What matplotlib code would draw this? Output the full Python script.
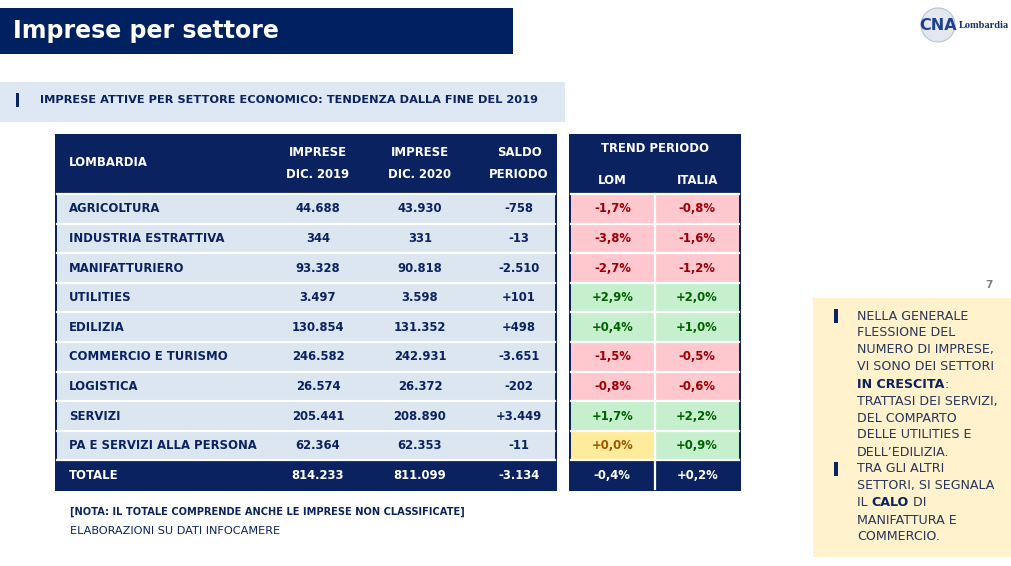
import matplotlib
matplotlib.use("Agg")
import matplotlib.pyplot as plt
from matplotlib.patches import Rectangle, Circle

# ---------------- data ----------------
sectors = ["AGRICOLTURA", "INDUSTRIA ESTRATTIVA", "MANIFATTURIERO", "UTILITIES",
           "EDILIZIA", "COMMERCIO E TURISMO", "LOGISTICA", "SERVIZI",
           "PA E SERVIZI ALLA PERSONA"]
imprese_2019 = [44688, 344, 93328, 3497, 130854, 246582, 26574, 205441, 62364]
imprese_2020 = [43930, 331, 90818, 3598, 131352, 242931, 26372, 208890, 62353]
saldo = [-758, -13, -2510, 101, 498, -3651, -202, 3449, -11]
trend_lom = [-1.7, -3.8, -2.7, 2.9, 0.4, -1.5, -0.8, 1.7, 0.0]
trend_italia = [-0.8, -1.6, -1.2, 2.0, 1.0, -0.5, -0.6, 2.2, 0.9]
totale_label = "TOTALE"
totale_2019 = 814233
totale_2020 = 811099
totale_saldo = -3134
totale_lom = -0.4
totale_italia = 0.2
header_cols = ["IMPRESE\nDIC. 2019", "IMPRESE\nDIC. 2020", "SALDO\nPERIODO"]
trend_cols = ["LOM", "ITALIA"]

# ---------------- style ----------------
FONT = "DejaVu Sans"
NAVY = "#0b2260"
LIGHT = "#dce6f1"
BAND = "#dde8f4"
RED_BG, RED_FG = "#ffc7ce", "#9c0006"
GRN_BG, GRN_FG = "#c6efce", "#006100"
YEL_BG, YEL_FG = "#ffeb9c", "#9c5700"
BOX = "#fff2cc"
BOXTXT = "#27365a"
TS = 8.4   # table font size


def fmt_int(v):
    return f"{v:,d}".replace(",", ".")


def fmt_signed(v):
    return f"{v:+,d}".replace(",", ".")


def fmt_pct(v):
    return f"{v:+.1f}%".replace(".", ",")


def pct_colors(v):
    if v > 0:
        return GRN_BG, GRN_FG
    if v < 0:
        return RED_BG, RED_FG
    return YEL_BG, YEL_FG


fig = plt.figure(figsize=(10.11, 5.66), dpi=100)
ax = fig.add_axes([0, 0, 1, 1])
ax.set_xlim(0, 1011)
ax.set_ylim(566, 0)
ax.axis("off")


def rect(x0, y0, x1, y1, color, z=1):
    ax.add_patch(Rectangle((x0, y0), x1 - x0, y1 - y0, facecolor=color,
                           edgecolor="none", zorder=z))


def txt(x, y, s, size=TS, color=NAVY, weight="bold", ha="left", va="center", **kw):
    return ax.text(x, y, s, fontsize=size, color=color, fontweight=weight, ha=ha,
                   va=va, family=FONT, zorder=5, **kw)


# title bar
rect(0, 8, 513, 54, "#002060")
txt(13, 31, "Imprese per settore", size=17, color="white")

# logo
ax.add_patch(Circle((938, 25), 17, facecolor="#e3e8f0", edgecolor="#b8c3d4",
                    lw=0.8, zorder=2))
ax.text(938, 26, "CNA", fontsize=11.5, fontweight="bold", color="#1f3f8f",
        ha="center", va="center", family="DejaVu Sans", zorder=5)
ax.text(959, 26, "Lombardia", fontsize=7.5, fontweight="bold", color="#1f2f6f",
        ha="left", va="center", family="Liberation Serif", zorder=5)

# sub header band
rect(0, 82, 565, 122, BAND)
rect(16, 93, 19, 107, NAVY, z=2)
txt(40, 100, "IMPRESE ATTIVE PER SETTORE ECONOMICO: TENDENZA DALLA FINE DEL 2019",
    size=8.2)

# ---------------- main table ----------------
top = 134
hdr_bot = 194
rh = 29.6
n = len(sectors)
bot = hdr_bot + rh * (n + 1)
L, R = 55, 557
rect(L, top, R, bot + 1, NAVY)
col_x = [318, 420, 519]
label_x = 69

txt(label_x, 162, "LOMBARDIA", color="white")
for cx, h in zip(col_x, header_cols):
    l1, l2 = h.split("\n")
    txt(cx, 153, l1, color="white", ha="center")
    txt(cx, 174, l2, color="white", ha="center")

for i, name in enumerate(sectors):
    y0 = hdr_bot + i * rh
    rect(L + 2, y0 + 1, R - 2, y0 + rh - 0.5, LIGHT)
    yc = y0 + rh / 2
    txt(label_x, yc, name)
    txt(col_x[0], yc, fmt_int(imprese_2019[i]), ha="center")
    txt(col_x[1], yc, fmt_int(imprese_2020[i]), ha="center")
    txt(col_x[2], yc, fmt_signed(saldo[i]), ha="center")

for i in range(n + 1):
    yy = hdr_bot + i * rh
    ax.plot([L + 2, R - 2], [yy, yy], color="white", lw=1.6, zorder=3)
yc = hdr_bot + n * rh + rh / 2
txt(label_x, yc, totale_label, color="white")
txt(col_x[0], yc, fmt_int(totale_2019), color="white", ha="center")
txt(col_x[1], yc, fmt_int(totale_2020), color="white", ha="center")
txt(col_x[2], yc, fmt_signed(totale_saldo), color="white", ha="center")

# ---------------- trend table ----------------
TL, TR, TM = 569, 741, 655
rect(TL, top, TR, bot + 1, NAVY)
txt(TM, 149, "TREND PERIODO", color="white", ha="center")
txt(612, 180, trend_cols[0], color="white", ha="center")
txt(698, 180, trend_cols[1], color="white", ha="center")
for i in range(n):
    y0 = hdr_bot + i * rh
    yc = y0 + rh / 2
    for (x0, x1, v) in [(TL + 2, TM, trend_lom[i]), (TM, TR - 2, trend_italia[i])]:
        bg, fg = pct_colors(v)
        rect(x0, y0 + 1, x1, y0 + rh - 0.5, bg)
        txt((x0 + x1) / 2, yc, fmt_pct(v), color=fg, ha="center")
for i in range(n + 1):
    yy = hdr_bot + i * rh
    ax.plot([TL + 2, TR - 2], [yy, yy], color="white", lw=1.6, zorder=3)
ax.plot([TM, TM], [hdr_bot, bot - 1], color="white", lw=1.6, zorder=3)
yc = hdr_bot + n * rh + rh / 2
txt(612, yc, fmt_pct(totale_lom), color="white", ha="center")
txt(698, yc, fmt_pct(totale_italia), color="white", ha="center")

# notes
txt(70, 512, "[NOTA: IL TOTALE COMPRENDE ANCHE LE IMPRESE NON CLASSIFICATE]", size=7.15)
txt(70, 531, "ELABORAZIONI SU DATI INFOCAMERE", size=8.1, weight="normal")

# page number
txt(989, 285, "7", size=7.5, color="#7f7f7f", ha="center")

# side box
BS = 9.1
rect(813, 298, 1011, 557, BOX)
lines = ["NELLA GENERALE", "FLESSIONE DEL", "NUMERO DI IMPRESE,",
         "VI SONO DEI SETTORI", None, "TRATTASI DEI SERVIZI,", "DEL COMPARTO",
         "DELLE UTILITIES E", "DELL\u2019EDILIZIA.", "TRA GLI ALTRI",
         "SETTORI, SI SEGNALA", None, "MANIFATTURA E", "COMMERCIO."]
ly0, lstep = 316, 17.0
for k, s in enumerate(lines):
    y = ly0 + k * lstep
    if s is not None:
        txt(857, y, s, size=BS, color=BOXTXT, weight="normal")

inv = ax.transData.inverted()
# mixed lines
y = ly0 + 4 * lstep
t = txt(857, y, "IN CRESCITA", size=BS, color=NAVY)
fig.canvas.draw()
xend = inv.transform((t.get_window_extent().x1, 0))[0]
txt(xend, y, ":", size=BS, color=BOXTXT, weight="normal")
y = ly0 + 11 * lstep
t1 = txt(857, y, "IL\u00a0", size=BS, color=BOXTXT, weight="normal")
fig.canvas.draw()
x1 = inv.transform((t1.get_window_extent().x1, 0))[0]
t2 = txt(x1, y, "CALO", size=BS, color=NAVY)
fig.canvas.draw()
x2 = inv.transform((t2.get_window_extent().x1, 0))[0]
txt(x2, y, "\u00a0DI", size=BS, color=BOXTXT, weight="normal")
rect(834, 309, 838, 323, NAVY, z=2)
rect(834, 462, 838, 476, NAVY, z=2)

fig.savefig("out.png", dpi=100)
